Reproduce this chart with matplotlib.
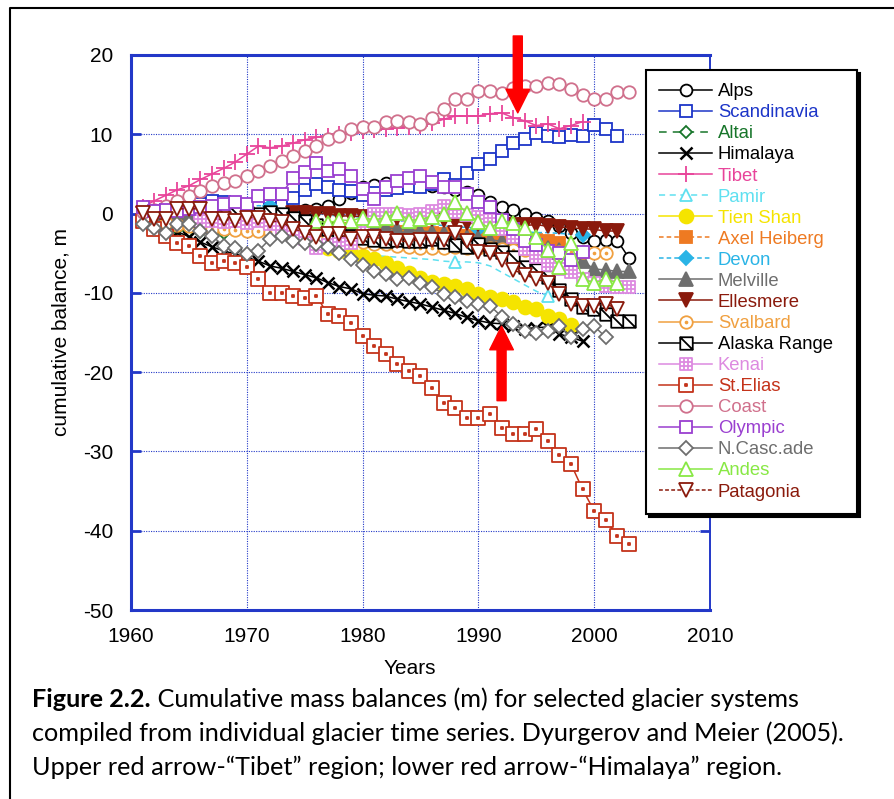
import numpy as np
import matplotlib
matplotlib.use("Agg")
import matplotlib.pyplot as plt
from matplotlib import font_manager
from matplotlib.path import Path
from matplotlib.lines import Line2D

# cumulative balance (m), one value per year starting at *_start
alps_start = 1967
alps = [0.0, -0.3, 0.0, 0.2, 0.3, 0.1, 0.0, 0.2, 0.4, 0.6, 1.0, 1.9, 2.6, 3.3, 3.6, 3.9,
        3.5, 3.6, 3.7, 3.5, 3.4, 3.0, 2.7, 2.3, 1.4, 0.8, 0.4, 0.0, -0.5, -1.0, -1.6,
        -2.4, -3.0, -3.5, -3.3, -3.4, -5.6]
scand_start = 1961
scandinavia = [-1.0, 0.2, 0.5, 0.5, 1.0, 1.2, 1.6, 1.5, 1.2, 1.0, 0.8, 0.6, 1.0, 2.0, 3.0,
               3.7, 3.4, 3.0, 2.9, 2.4, 2.6, 3.0, 3.2, 3.5, 3.3, 3.7, 4.4, 3.6, 5.1, 6.3,
               6.9, 7.9, 8.9, 9.4, 10.2, 9.8, 9.7, 9.9, 9.8, 11.2, 10.7, 9.8]
altai_start = 1962
altai = [-0.8, -1.4, -1.9, -2.2, -2.3, -2.4, -2.5]
himalaya_start = 1961
himalaya = [-0.5, -1.0, -1.6, -2.3, -2.9, -3.6, -4.2, -4.7, -5.1, -5.5, -6.0, -6.6, -6.9,
            -7.3, -7.7, -8.1, -8.7, -9.2, -9.5, -10.1, -10.3, -10.4, -10.8, -11.1, -11.4,
            -11.8, -12.2, -12.6, -13.1, -13.5, -13.8, -13.9, -14.2, -14.5, -14.4, -14.3,
            -15.2, -15.6, -16.1]
tibet_start = 1961
tibet = [0.8, 1.6, 2.3, 3.0, 3.5, 4.3, 5.0, 5.7, 6.5, 7.5, 8.5, 8.3, 8.5, 8.9, 9.3, 9.6,
         9.8, 10.0, 10.2, 10.4, 10.6, 10.7, 10.8, 10.9, 11.0, 11.4, 11.9, 12.3, 12.3,
         12.3, 12.6, 12.7, 12.1, 11.7, 11.1, 11.3, 10.7, 11.1, 11.6]
pamir_start = 1976
pamir = [-4.0, -4.3, -4.6, -4.9, -5.1, -5.3, -5.4, -5.5, -5.6, -5.7, -5.8, -6.0, -6.1,
         -6.1, -6.2, -6.6, -7.4, -8.2, -9.0, -9.8, -10.4]
tienshan_start = 1976
tienshan = [-3.7, -4.3, -4.7, -5.0, -5.3, -5.7, -6.2, -6.9, -7.5, -8.1, -8.6, -8.9, -9.1,
            -9.5, -10.1, -10.5, -10.8, -11.2, -11.8, -12.0, -12.9, -13.3, -14.1]
axel_start = 1961
axel_heiberg = [-0.2, -0.4, -0.6, -0.7, -0.9, -1.0, -1.1, -1.2, -1.3, -1.3, -1.4, -1.4,
                -1.5, -1.6, -1.6, -1.7, -1.8, -1.9, -2.0, -2.0, -2.1, -2.2, -2.3, -2.3,
                -2.4, -2.5, -2.6, -2.7, -2.8, -2.8, -2.9, -3.0, -3.1, -3.2, -3.3, -3.5,
                -3.7]
devon_start = 1961
devon = [0.0, 0.1, 0.3, 0.2, 0.4, 0.5, 0.6, 0.5, 0.7, 0.8, 1.0, 0.9, 0.6, 0.4, 0.2, 0.0,
         -0.2, -0.3, -0.3, -0.5, -0.7, -0.8, -0.9, -1.0, -1.2, -1.4, -1.5, -1.8, -1.7,
         -1.9, -2.0, -2.1, -2.2, -2.3, -2.4, -2.4, -2.5, -2.6, -2.7]
melville_start = 1961
melville = [0.0, -0.1, -0.2, -0.1, -0.3, -0.4, -0.5, -0.5, -0.6, -0.8, -0.9, -0.9, -1.0,
            -1.1, -1.2, -1.3, -1.4, -1.5, -1.5, -1.6, -1.7, -1.8, -1.9, -2.0, -2.2, -2.3,
            -2.5, -2.7, -2.9, -3.1, -3.3, -3.5, -3.6, -3.8, -4.0, -4.3, -4.6, -5.0, -6.0,
            -7.0, -7.1, -7.3, -7.3]
ellesmere_start = 1974
ellesmere = [0.1, 0.1, 0.0, 0.0, -0.3, -0.3, -0.4, -0.4, -0.5, -0.5, -0.6, -0.6, -0.7,
             -0.8, -1.0, -1.2, -1.3, -1.3, -1.4, -1.4, -1.5, -1.4, -1.6, -1.7, -1.8, -1.9,
             -2.0, -2.2, -2.2]
svalbard_start = 1963
svalbard = [-1.2, -1.5, -1.6, -1.8, -1.9, -2.0, -2.1, -2.2, -2.2, -2.3, -2.4, -2.6, -2.8,
            -3.0, -3.1, -3.3, -3.4, -3.6, -3.8, -3.9, -4.1, -4.2, -4.3, -4.3, -4.3, -4.2,
            -4.3, -4.4, -4.4, -4.5, -4.6, -4.6, -4.7, -4.7, -4.8, -4.9, -4.9, -5.0, -5.0]
alaska_start = 1966
alaska_range = [0.0, 0.1, 0.0, 0.2, 0.1, 0.0, 0.2, 0.0, -0.5, -1.0, -1.5, -2.0, -2.5,
                -2.8, -3.1, -3.3, -3.5, -3.3, -3.5, -3.4, -3.2, -3.6, -4.0, -4.2, -3.9,
                -4.5, -4.8, -5.5, -6.7, -7.1, -8.0, -9.7, -10.8, -11.8, -12.0, -12.7,
                -13.6, -13.6]
kenai_start = 1966
kenai = [-0.9, -0.9, -1.1, -1.0, -1.2, -1.0, -1.3, -1.8, -2.5, -3.2, -4.3, -4.0, -3.8,
         -3.7, -2.0, 0.0, -0.1, 0.0, -0.2, -0.1, 0.3, 1.0, 0.2, -0.2, -0.4, -0.8, -2.0,
         -3.0, -4.5, -5.5, -6.5, -7.0, -7.4, -8.3, -8.8, -9.1, -9.3, -9.3]
stelias_start = 1961
st_elias = [-1.0, -1.9, -2.8, -3.7, -4.1, -5.3, -6.2, -6.0, -6.2, -6.8, -8.3, -10.0, -10.0,
            -10.4, -10.6, -10.4, -12.7, -12.9, -13.8, -15.4, -16.7, -17.7, -19.0, -19.9,
            -20.5, -22.0, -23.9, -24.5, -25.8, -25.8, -25.3, -27.0, -27.8, -27.8, -27.2,
            -28.7, -30.4, -31.6, -34.8, -37.5, -38.6, -40.7, -41.7]
coast_start = 1961
coast = [0.2, 0.5, 1.0, 1.6, 2.2, 2.8, 3.5, 3.9, 4.1, 4.8, 5.4, 6.0, 6.6, 7.3, 7.9, 8.5,
         9.4, 9.8, 10.7, 10.9, 10.9, 11.5, 11.7, 11.5, 11.3, 12.0, 13.2, 14.5, 14.5, 15.5,
         15.4, 15.2, 15.9, 16.1, 16.1, 16.5, 16.4, 15.7, 14.9, 14.5, 14.5, 15.3, 15.3]
olympic_start = 1961
olympic = [0.8, 0.3, 0.5, 0.3, 0.6, 0.8, 1.0, 1.2, 1.4, 1.2, 2.2, 2.5, 2.5, 4.5, 5.2, 6.4,
           5.4, 5.6, 4.8, 3.1, 1.9, 3.3, 4.1, 4.5, 4.8, 4.0, 3.3, 3.3, 2.5, 1.4, 0.8, -0.8,
           -2.0, -3.4, -4.0, -4.7, -5.0, -5.9, -4.8]
ncascade_start = 1961
n_cascade = [-1.3, -1.8, -2.4, -1.3, -1.3, -2.2, -2.8, -4.1, -4.3, -5.1, -4.7, -3.2, -2.8,
             -3.4, -3.7, -3.9, -4.2, -5.0, -5.7, -6.5, -7.2, -7.6, -8.3, -8.1, -8.8, -9.3,
             -10.1, -10.5, -11.0, -11.4, -11.6, -13.0, -13.9, -14.8, -15.0, -14.8, -14.2,
             -15.6, -14.6, -14.2, -15.6]
andes_start = 1976
andes = [-0.9, -1.2, -0.8, -0.9, -0.5, -0.8, -0.5, 0.1, -0.9, -0.7, -0.4, 0.0, 1.4, 0.1,
         -1.1, -1.8, -0.9, -1.2, -1.8, -3.0, -4.6, -6.7, -3.7, -8.2, -8.8, -8.2, -8.8]
patagonia_start = 1961
patagonia = [0.1, -0.7, -0.7, 0.6, 0.6, 0.6, -0.7, -0.7, -0.9, -0.5, -0.5, -0.9, -1.1, -1.9,
             -2.4, -3.0, -2.6, -2.6, -3.2, -3.0, -3.0, -3.2, -3.5, -3.5, -3.3, -3.3, -3.3,
             -2.4, -3.5, -4.8, -5.0, -5.8, -7.1, -7.7, -8.2, -8.8, -10.1, -11.4, -11.6,
             -11.6, -11.4, -12.0]

x_ticks = [1960, 1970, 1980, 1990, 2000, 2010]
y_ticks = [-50, -40, -30, -20, -10, 0, 10, 20]

# red arrows: (year, tail, tip)
tibet_arrow = (1993.4, 22.4, 12.7)
himalaya_arrow = (1992.0, -23.6, -14.2)

caption_bold = "Figure 2.2."
caption_lines = [
    " Cumulative mass balances (m) for selected glacier systems",
    "compiled from individual glacier time series. Dyurgerov and Meier (2005).",
    "Upper red arrow-\u201cTibet\u201d region; lower red arrow-\u201cHimalaya\u201d region.",
]

# fonts
names = {f.name for f in font_manager.fontManager.ttflist}
if "Liberation Sans Narrow" in names:
    chart_font = ["Liberation Sans Narrow", "Liberation Sans"]
    tick_size, leg_size = 16.5, 16.5
else:
    chart_font = ["Liberation Sans"]
    tick_size, leg_size = 15, 13.3
plt.rcParams["font.family"] = chart_font
plt.rcParams["axes.unicode_minus"] = False

# custom markers
sq = [(-1, -1), (1, -1), (1, 1), (-1, 1), (-1, -1)]
sq_codes = [Path.MOVETO, Path.LINETO, Path.LINETO, Path.LINETO, Path.CLOSEPOLY]
slash_square = Path(sq + [(-1, 1), (1, -1)], sq_codes + [Path.MOVETO, Path.LINETO])
g = 1 / 3
grid_square = Path(sq + [(-g, -1), (-g, 1), (g, -1), (g, 1), (-1, -g), (1, -g), (-1, g), (1, g)],
                   sq_codes + [Path.MOVETO, Path.LINETO] * 4)
s = 0.12
dot_square = Path(sq + [(-s, -s), (s, -s), (s, s), (-s, s), (-s, -s)], sq_codes * 2)
dot_circle = Path.make_compound_path(Path.unit_circle(), Path.circle((0, 0), 0.15))

series = [
    ("Alps", alps_start, alps, dict(color="black", marker="o", ms=8.5, mfc="white")),
    ("Scandinavia", scand_start, scandinavia, dict(color="#1c35c8", marker="s", ms=8.5, mfc="white")),
    ("Altai", altai_start, altai, dict(color="#17752a", marker="D", ms=6.5, mfc="white", ls=(0, (5, 4)))),
    ("Himalaya", himalaya_start, himalaya, dict(color="black", marker="x", ms=8, mew=1.8)),
    ("Tibet", tibet_start, tibet, dict(color="#e8449a", marker="+", ms=11, mew=1.3)),
    ("Pamir", pamir_start, pamir, dict(color="#5fe0f0", marker="^", ms=9, mfc="white",
                                       ls=(0, (4, 3)), markevery=(4, 8))),
    ("Tien Shan", tienshan_start, tienshan, dict(color="#f5e400", marker="o", ms=10)),
    ("Axel Heiberg", axel_start, axel_heiberg, dict(color="#ee7a22", marker="s", ms=9, ls=(0, (3, 2)))),
    ("Devon", devon_start, devon, dict(color="#2ab4e6", marker="D", ms=7.5, ls=(0, (3, 2)),
                                       markevery=(11, 9))),
    ("Melville", melville_start, melville, dict(color="#6e6e6e", marker="^", ms=10)),
    ("Ellesmere", ellesmere_start, ellesmere, dict(color="#8a1a0c", marker="v", ms=10)),
    ("Svalbard", svalbard_start, svalbard, dict(color="#f0a040", marker=dot_circle, ms=9, mfc="white")),
    ("Alaska Range", alaska_start, alaska_range, dict(color="black", marker=slash_square, ms=9, mfc="white")),
    ("Kenai", kenai_start, kenai, dict(color="#dd8ae0", marker=grid_square, ms=9, mfc="white")),
    ("St.Elias", stelias_start, st_elias, dict(color="#c4331a", marker=dot_square, ms=10, mfc="white")),
    ("Coast", coast_start, coast, dict(color="#d0708c", marker="o", ms=9, mfc="white")),
    ("Olympic", olympic_start, olympic, dict(color="#9a3fd0", marker="s", ms=9, mfc="white")),
    ("N.Casc.ade", ncascade_start, n_cascade, dict(color="#6e6e6e", marker="D", ms=7, mfc="white")),
    ("Andes", andes_start, andes, dict(color="#88e844", marker="^", ms=10, mfc="white")),
    ("Patagonia", patagonia_start, patagonia, dict(color="#8a1a0c", marker="v", ms=10, mfc="white", ls=(0, (2.5, 1.5)))),
]

W, H = 894, 799
BLUE = "#2338c8"
fig = plt.figure(figsize=(W / 100, H / 100), dpi=100)
ax = fig.add_axes([131 / W, 1 - 610 / H, (710 - 131) / W, (610 - 55) / H])

handles = []
for name, start, vals, style in series:
    yrs = np.arange(start, start + len(vals))
    st = dict(lw=1.1, mew=1.3, ls="-")
    st.update(style)
    h, = ax.plot(yrs, vals, label=name, **st)
    handles.append(h)

ax.set_xlim(1960, 2010)
ax.set_ylim(-50, 20)
ax.set_xticks(x_ticks)
ax.set_yticks(y_ticks)
ax.grid(True, color=BLUE, ls=(0, (1, 1.2)), lw=0.8)
ax.set_axisbelow(True)
for side in ["left", "bottom", "top"]:
    ax.spines[side].set_linewidth(2.2)
ax.spines["right"].set_linewidth(1.4)
for sp in ax.spines.values():
    sp.set_color(BLUE)
ax.tick_params(axis="y", direction="in", length=7, width=2, color=BLUE,
               left=True, right=True, pad=13, labelsize=tick_size)
ax.tick_params(axis="x", length=0, pad=12, labelsize=tick_size)

ax.set_xlabel("Years", fontsize=tick_size)
ax.xaxis.set_label_coords(0.482, -0.088)
ax.set_ylabel("cumulative balance, m", fontsize=15, family="Liberation Sans")
ax.yaxis.set_label_coords(-0.105, 0.5)

arrow_kw = dict(arrowstyle="simple,head_length=17,head_width=17,tail_width=6.5",
                color="red", shrinkA=0, shrinkB=0, mutation_scale=1)
for xa, tail, tip in [tibet_arrow, himalaya_arrow]:
    ax.annotate("", xy=(xa, tip), xytext=(xa, tail), arrowprops=arrow_kw,
                annotation_clip=False, zorder=10)

leg = fig.legend(handles=handles, loc="upper left",
                 bbox_to_anchor=(646 / W, 1 - 510 / H, 211 / W, 440 / H), mode="expand",
                 borderaxespad=0, fontsize=leg_size, numpoints=1, handlelength=2.87,
                 handletextpad=0.3, borderpad=0.72, labelspacing=0.22,
                 fancybox=False, framealpha=1, edgecolor="black",
                 shadow={"color": "black", "alpha": 1})
leg.get_frame().set_linewidth(1.5)
for txt, (name, start, vals, style) in zip(leg.get_texts(), series):
    txt.set_color(style["color"])

# outer frame (top and left edges visible)
fig.add_artist(Line2D([10 / W, 10 / W, 1], [0, 1 - 8 / H, 1 - 8 / H], color="black",
                      lw=1.5, transform=fig.transFigure))

# caption
cap_font = ["Lato", "DejaVu Sans"]
cap_size = 18.2
base = [707, 741, 775]
r = fig.canvas.get_renderer()
tb = fig.text(32 / W, 1 - base[0] / H, caption_bold, fontsize=cap_size, fontweight="bold",
              family=cap_font, va="baseline")
x1 = tb.get_window_extent(renderer=r).x1
fig.text(x1 / W, 1 - base[0] / H, caption_lines[0], fontsize=cap_size, family=cap_font,
         va="baseline")
for line, b in zip(caption_lines[1:], base[1:]):
    fig.text(32 / W, 1 - b / H, line, fontsize=cap_size, family=cap_font, va="baseline")

fig.savefig("out.png", dpi=100)
